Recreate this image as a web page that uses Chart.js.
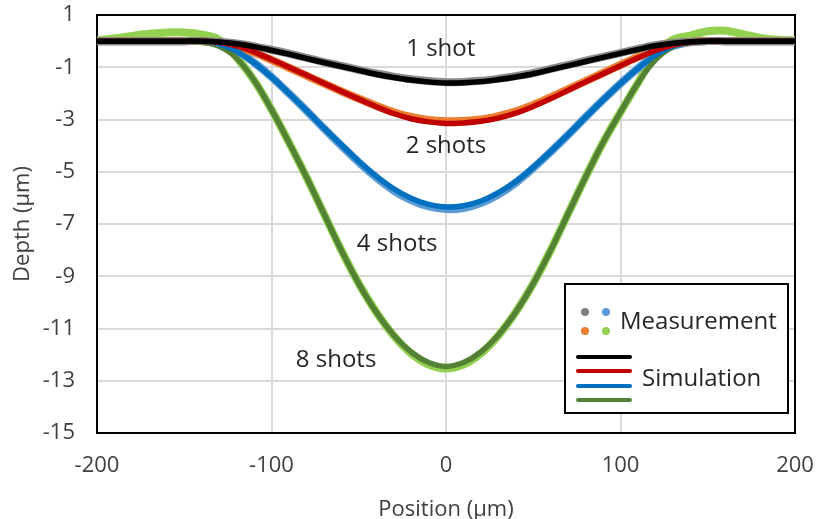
<!DOCTYPE html>
<html>
<head>
<meta charset="utf-8">
<script src="https://cdn.jsdelivr.net/npm/chart.js@4"></script>
<style>
  html, body { margin: 0; padding: 0; background: #fff; }
  #wrap { width: 816px; height: 519px; }
</style>
</head>
<body>
<div id="wrap"><canvas id="depthChart" width="816" height="519"></canvas></div>
<script>
// Posición (µm)
const positions = [-200, -190, -180, -170, -160, -150, -140, -130, -120, -110, -100, -90, -80, -70, -60, -50, -40, -30, -20, -10,
  0, 10, 20, 30, 40, 50, 60, 70, 80, 90, 100, 110, 120, 130, 140, 150, 160, 170, 180, 190, 200];

// Simulación (profundidad µm)
const sim1 = [0, 0, 0, 0, 0, 0, 0, -0.03, -0.1, -0.21, -0.35, -0.5, -0.66, -0.82, -0.97, -1.12, -1.27, -1.39, -1.49, -1.56,
  -1.6, -1.59, -1.55, -1.47, -1.37, -1.25, -1.09, -0.94, -0.78, -0.62, -0.47, -0.32, -0.18, -0.08, -0.02, 0, 0, 0, 0, 0, 0];
const sim2 = [0, 0, 0, 0, 0, 0, 0, -0.04, -0.18, -0.41, -0.7, -1.0, -1.3, -1.61, -1.92, -2.22, -2.51, -2.77, -2.97, -3.09,
  -3.15, -3.13, -3.07, -2.95, -2.76, -2.5, -2.2, -1.88, -1.56, -1.25, -0.94, -0.64, -0.36, -0.15, -0.03, 0, 0, 0, 0, 0, 0];
const sim4 = [0, 0, 0, 0, 0, 0, 0, -0.11, -0.38, -0.83, -1.38, -2.0, -2.65, -3.32, -3.97, -4.6, -5.17, -5.65, -6.01, -6.25,
  -6.35, -6.3, -6.12, -5.8, -5.37, -4.83, -4.22, -3.58, -2.91, -2.25, -1.62, -1.04, -0.54, -0.19, -0.04, 0, 0, 0, 0, 0, 0];
const sim8 = [0, 0, 0, 0, 0, 0, -0.04, -0.2, -0.65, -1.5, -2.62, -3.88, -5.2, -6.6, -8.0, -9.28, -10.37, -11.25, -11.9, -12.3,
  -12.45, -12.3, -11.9, -11.25, -10.37, -9.28, -8.0, -6.6, -5.2, -3.88, -2.72, -1.6, -0.72, -0.22, -0.04, 0, 0, 0, 0, 0, 0];

// Medición (profundidad µm)
const meas1 = [0, 0, 0, 0, 0, 0, 0, -0.02, -0.09, -0.2, -0.33, -0.48, -0.64, -0.8, -0.95, -1.1, -1.24, -1.36, -1.46, -1.53,
  -1.57, -1.56, -1.52, -1.44, -1.34, -1.22, -1.06, -0.91, -0.75, -0.6, -0.45, -0.3, -0.16, -0.07, -0.02, 0, 0, 0, 0, 0, 0];
const meas2 = [0, 0, 0, 0, 0, 0, 0, -0.05, -0.2, -0.44, -0.72, -1.02, -1.32, -1.62, -1.92, -2.2, -2.47, -2.72, -2.9, -3.02,
  -3.07, -3.05, -3.0, -2.87, -2.69, -2.44, -2.15, -1.84, -1.53, -1.22, -0.91, -0.6, -0.33, -0.12, -0.02, 0, 0, 0, 0, 0, 0];
const meas4 = [0, 0, 0, 0, 0, 0, 0, -0.1, -0.37, -0.82, -1.37, -2.0, -2.66, -3.34, -4.0, -4.64, -5.22, -5.72, -6.09, -6.33,
  -6.43, -6.39, -6.2, -5.87, -5.42, -4.86, -4.24, -3.59, -2.91, -2.25, -1.62, -1.04, -0.54, -0.19, -0.04, 0, 0, 0, 0, 0, 0];
const meas8 = [0.03, 0.1, 0.2, 0.28, 0.33, 0.33, 0.25, 0.05, -0.62, -1.5, -2.62, -3.88, -5.2, -6.6, -8.0, -9.28, -10.37, -11.27, -11.95, -12.38,
  -12.53, -12.38, -11.95, -11.27, -10.37, -9.28, -8.0, -6.6, -5.2, -3.88, -2.72, -1.6, -0.5, 0.05, 0.21, 0.38, 0.4, 0.27, 0.12, 0.05, 0.03];

// Etiquetas
const yTicks = [1, -1, -3, -5, -7, -9, -11, -13, -15];
const shotLabels = ['1 shot', '2 shots', '4 shots', '8 shots'];
const shotSpots = [[-3, -0.32], [0, -4.03], [-28, -7.76], [-63, -12.2]];

const FONT = '"Open Sans", "Noto Sans", sans-serif';

function pts(ys) {
    return positions.map((x, i) => ({ x: x, y: ys[i] }));
}

function line(label, ys, color, width, order) {
    return {
        label: label,
        data: pts(ys),
        borderColor: color,
        backgroundColor: color,
        borderWidth: width,
        pointRadius: 0,
        tension: 0.35,
        borderCapStyle: 'round',
        order: order
    };
}

// Marco negro del área de trazado
const frame = {
    id: 'frame',
    beforeDatasetsDraw(chart) {
        const a = chart.chartArea, c = chart.ctx;
        c.save();
        c.strokeStyle = '#000';
        c.lineWidth = 2;
        c.strokeRect(a.left, a.top, a.right - a.left, a.bottom - a.top);
        c.restore();
    }
};

// Textos de disparos y leyenda
const notes = {
    id: 'notes',
    afterDraw(chart) {
        const c = chart.ctx, xs = chart.scales.x, ys = chart.scales.y;
        c.save();
        c.font = '24px ' + FONT;
        c.fillStyle = '#262626';
        c.textAlign = 'center';
        c.textBaseline = 'middle';
        shotLabels.forEach((t, i) => {
            c.fillText(t, xs.getPixelForValue(shotSpots[i][0]), ys.getPixelForValue(shotSpots[i][1]));
        });

        // leyenda
        c.fillStyle = '#fff';
        c.fillRect(565, 284, 223, 129);
        c.strokeStyle = '#000';
        c.lineWidth = 2;
        c.strokeRect(565, 284, 223, 129);
        const dots = [[585, 312, '#7f7f7f'], [606, 312, '#5b9bd5'], [585, 331, '#ed7d31'], [606, 331, '#92d050']];
        dots.forEach(d => {
            c.beginPath();
            c.arc(d[0], d[1], 4, 0, Math.PI * 2);
            c.fillStyle = d[2];
            c.fill();
        });
        const bars = [[357, '#000000'], [371, '#c00000'], [386, '#0070c0'], [400, '#548235']];
        c.lineCap = 'round';
        c.lineWidth = 4;
        bars.forEach(b => {
            c.beginPath();
            c.moveTo(578, b[0]);
            c.lineTo(630, b[0]);
            c.strokeStyle = b[1];
            c.stroke();
        });
        c.fillStyle = '#262626';
        c.textAlign = 'left';
        c.fillText('Measurement', 620, 322);
        c.fillText('Simulation', 642, 379);
        c.restore();
    }
};

document.addEventListener('DOMContentLoaded', function() {
    const ctx = document.getElementById('depthChart').getContext('2d');
    new Chart(ctx, {
        type: 'line',
        data: {
            datasets: [
                line('1 shot sim', sim1, '#000000', 5.5, 0),
                line('2 shots sim', sim2, '#c00000', 5.5, 0),
                line('4 shots sim', sim4, '#0070c0', 5.5, 0),
                line('8 shots sim', sim8, '#548235', 5.5, 0),
                line('1 shot meas', meas1, '#8a8a8a', 8, 1),
                line('2 shots meas', meas2, '#ed7d31', 8, 1),
                line('4 shots meas', meas4, '#5b9bd5', 8, 1),
                line('8 shots meas', meas8, '#92d050', 8, 1)
            ]
        },
        options: {
            responsive: false,
            animation: false,
            devicePixelRatio: 1,
            layout: { padding: { left: 0, right: 21, top: 15, bottom: 0 } },
            plugins: {
                legend: { display: false },
                tooltip: { enabled: false }
            },
            scales: {
                x: {
                    type: 'linear',
                    min: -200,
                    max: 200,
                    afterFit(s) { s.height = 86; s.paddingLeft = 0; s.paddingRight = 0; },
                    grid: { color: '#d9d9d9', lineWidth: 2, drawTicks: false },
                    border: { display: false },
                    ticks: { stepSize: 100, padding: 20, color: '#404040', font: { family: FONT, size: 22 } },
                    title: { display: true, text: 'Position (µm)', color: '#404040', padding: { top: 0, bottom: -2 }, font: { family: FONT, size: 22, lineHeight: 1 } }
                },
                y: {
                    type: 'linear',
                    min: -15,
                    max: 1,
                    afterFit(s) { s.width = 97; s.paddingTop = 0; s.paddingBottom = 0; },
                    afterBuildTicks(s) { s.ticks = yTicks.map(v => ({ value: v })); },
                    grid: { color: '#d9d9d9', lineWidth: 2, drawTicks: false },
                    border: { display: false },
                    ticks: { padding: 22, color: '#404040', font: { family: FONT, size: 22 } },
                    title: { display: true, text: 'Depth (µm)', color: '#404040', padding: { top: 10, bottom: 0 }, font: { family: FONT, size: 22 } }
                }
            }
        },
        plugins: [frame, notes]
    });
});
</script>
</body>
</html>
